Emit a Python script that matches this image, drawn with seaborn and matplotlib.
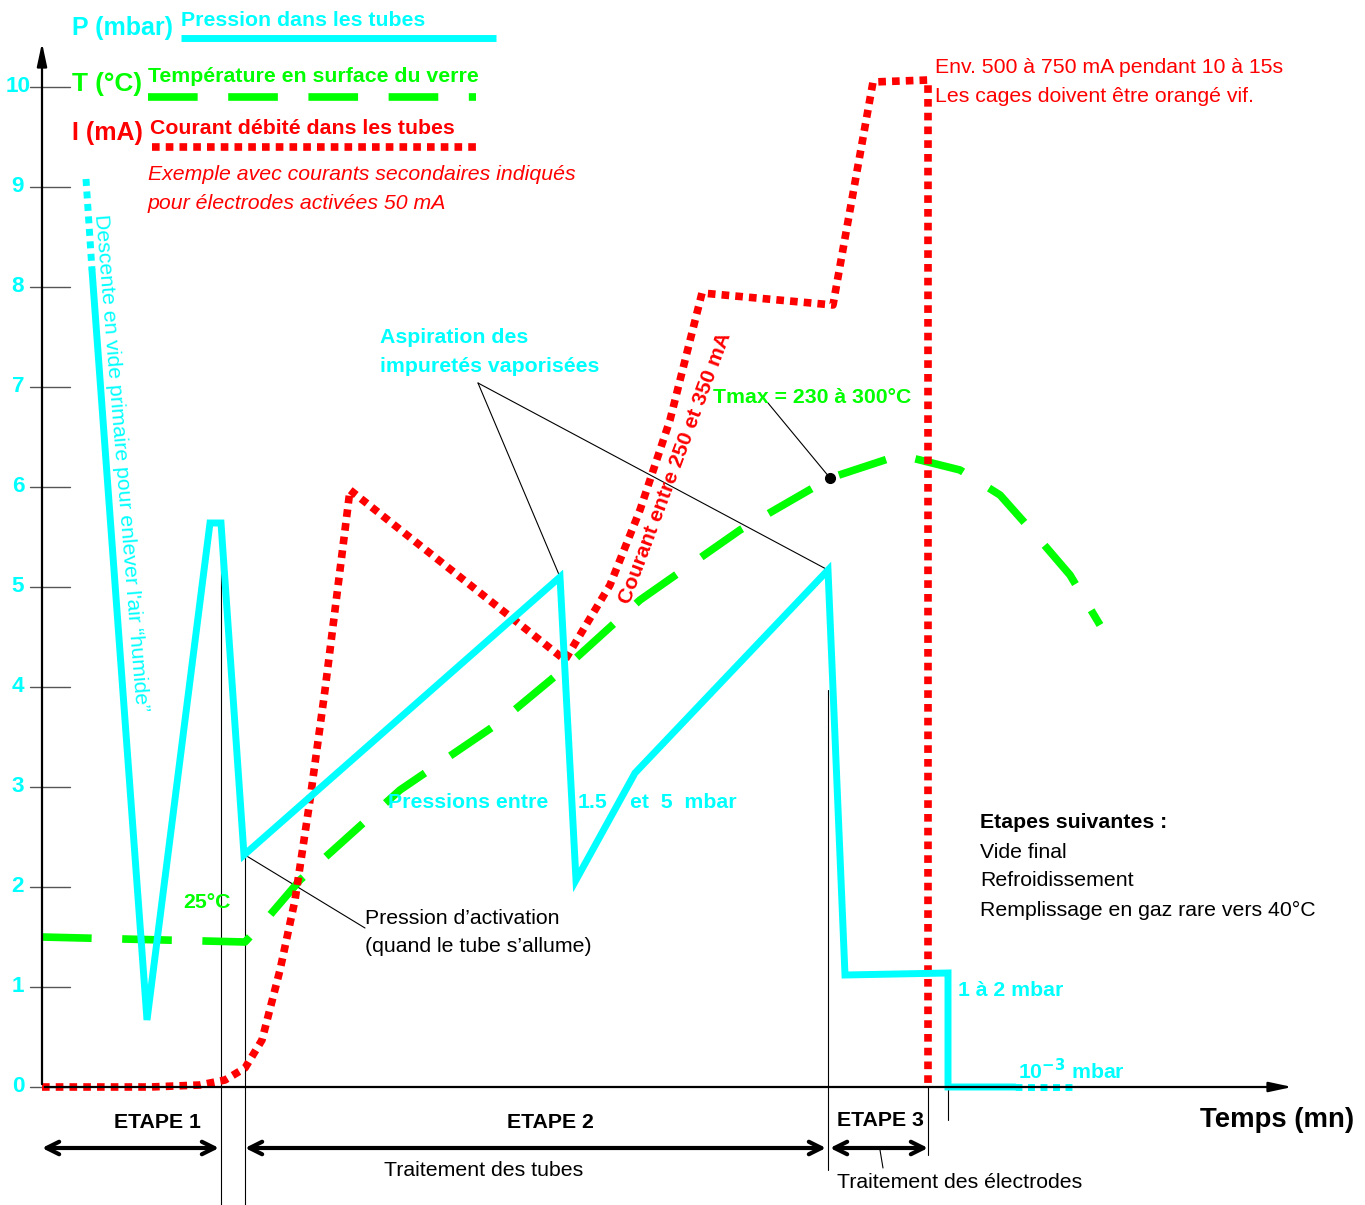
import numpy as np
import pandas as pd
import seaborn as sns
import matplotlib.pyplot as plt
from matplotlib import font_manager

sns.set_style("white")

# narrow font if there is one, otherwise shrink Liberation Sans to the same width
names = {f.name for f in font_manager.fontManager.ttflist}
if 'Liberation Sans Narrow' in names:
    FAM, S = 'Liberation Sans Narrow', 1.0
else:
    FAM, S = 'Liberation Sans', 0.9
plt.rcParams['font.family'] = [FAM, 'DejaVu Sans']

CYAN = '#00FFFF'
GREEN = '#00FF00'
RED = '#FF0000'

# pression (mbar) vs temps
p_t = [0.50, 1.05, 1.68, 1.79, 2.02, 5.18, 5.34, 5.93, 7.86, 8.03, 9.06, 9.06, 9.73]
p_v = [8.17, 0.67, 5.64, 5.64, 2.32, 5.10, 2.07, 3.14, 5.17, 1.12, 1.14, 0.00, 0.00]
p_head_t = [0.44, 0.50]
p_head_v = [9.08, 8.17]
p_tail_t = [9.73, 10.33]
p_tail_v = [0.00, 0.00]

# temperature (echelle relative)
t_t = [0.00, 2.03, 2.28, 2.58, 3.58, 4.58, 5.23, 5.98, 6.98, 7.88, 8.58, 9.18, 9.58, 9.98, 10.28, 10.58]
t_v = [1.50, 1.45, 1.72, 2.07, 2.97, 3.65, 4.19, 4.87, 5.57, 6.09, 6.32, 6.17, 5.92, 5.47, 5.12, 4.62]

# courant (echelle relative)
i_t = [0.00, 1.08, 1.58, 1.83, 2.03, 2.20, 2.38, 2.53, 2.68, 2.83, 2.98, 3.08,
       5.23, 5.68, 5.98, 6.28, 6.60, 7.91, 8.31, 8.86, 8.86]
i_v = [0.00, 0.00, 0.02, 0.07, 0.19, 0.47, 1.17, 1.87, 2.87, 3.97, 5.17, 5.97,
       4.27, 5.02, 5.77, 6.67, 7.94, 7.82, 10.05, 10.07, 0.00]

yticks = list(range(0, 11))
tmax_pt = (7.88, 6.09)

fig = plt.figure(figsize=(13.65, 12.05), dpi=100)
ax = fig.add_axes([0, 0, 1, 1])
ax.set_xlim(-0.42, 13.23)
ax.set_ylim(-1.18, 10.87)
ax.axis('off')


def P(px, py):
    # pixel position -> data coords (layout only)
    return ((px - 42) / 100, (1087 - py) / 100)


def T(px, py, s, color='black', size=17, **kw):
    kw.setdefault('va', 'center')
    ax.text(*P(px, py), s, color=color, fontsize=size * S, **kw)


def line(df_x, df_y, color, lw, ls='-', cap='butt'):
    sns.lineplot(x=df_x, y=df_y, ax=ax, color=color, lw=lw, linestyle=ls,
                 sort=False, estimator=None, dash_capstyle=cap,
                 solid_joinstyle='miter')


# thin guide lines
for (x0, y0), (x1, y1) in [((221, 535), (221, 1205)), ((245, 855), (245, 1205)),
                           ((828, 690), (828, 1170)), ((928, 1087), (928, 1155)),
                           ((948, 1010), (948, 1120)), ((880, 1150), (883, 1168)),
                           ((478, 383), (560, 577)), ((478, 383), (828, 570)),
                           ((245, 855), (365, 928)), ((768, 403), (830, 478))]:
    a, b = P(x0, y0), P(x1, y1)
    ax.plot([a[0], b[0]], [a[1], b[1]], color='black', lw=0.8)

# axes with arrows
ax.annotate('', xy=P(42, 40), xytext=P(42, 1087),
            arrowprops=dict(arrowstyle='-|>,head_length=1.4,head_width=0.3', color='black', lw=1.6))
ax.annotate('', xy=P(1295, 1087), xytext=P(42, 1087),
            arrowprops=dict(arrowstyle='-|>,head_length=1.4,head_width=0.3', color='black', lw=1.6))
for v in yticks:
    ax.plot([-0.12, 0.28], [v, v], color='#555555', lw=1)
    ax.text(-0.24, v, str(v), color=CYAN, fontsize=18 * S, fontweight='bold', ha='center', va='center')

# series
line(t_t, t_v, GREEN, 5.5, (0, (6.5, 4)))
line(i_t, i_v, RED, 5.5, (0, (1, 0.8)))
line(p_t, p_v, CYAN, 5)
line(p_head_t, p_head_v, CYAN, 5, (0, (1, 0.8)))
line(p_tail_t, p_tail_v, CYAN, 5, (0, (1, 0.8)))
ax.plot(*tmax_pt, 'o', color='black', ms=7)

# legend block
T(72, 28, 'P (mbar)', CYAN, 20, fontweight='bold')
T(181, 21, 'Pression dans les tubes', CYAN, 17, fontweight='bold')
a, b = P(181, 38), P(496, 38)
ax.plot([a[0], b[0]], [a[1], b[1]], color=CYAN, lw=5, solid_capstyle='butt')
T(72, 84, 'T (°C)', GREEN, 21, fontweight='bold')
T(148, 77, 'Température en surface du verre', GREEN, 17, fontweight='bold')
a, b = P(148, 97), P(476, 97)
ax.plot([a[0], b[0]], [a[1], b[1]], color=GREEN, lw=5.5, linestyle=(0, (6.5, 4)))
T(72, 133, 'I (mA)', RED, 20, fontweight='bold')
T(150, 129, 'Courant débité dans les tubes', RED, 17, fontweight='bold')
a, b = P(152, 147), P(476, 147)
ax.plot([a[0], b[0]], [a[1], b[1]], color=RED, lw=5.5, linestyle=(0, (1, 0.8)))
T(148, 175, 'Exemple avec courants secondaires indiqués', RED, 17, style='italic')
T(148, 204, 'pour électrodes activées 50 mA', RED, 17, style='italic')

# annotations
T(121, 463, 'Descente en vide primaire pour enlever l\'air “humide”', CYAN, 17,
  rotation=-85.3, rotation_mode='anchor', ha='center')
T(380, 338, 'Aspiration des', CYAN, 17, fontweight='bold')
T(380, 367, 'impuretés vaporisées', CYAN, 17, fontweight='bold')
T(713, 398, 'Tmax = 230 à 300°C', GREEN, 17, fontweight='bold')
T(675, 468, 'Courant entre 250 et 350 mA', RED, 17, fontweight='bold',
  rotation=69.5, rotation_mode='anchor', ha='center')
T(935, 68, 'Env. 500 à 750 mA pendant 10 à 15s', RED, 17)
T(935, 97, 'Les cages doivent être orangé vif.', RED, 17)
T(388, 803, 'Pressions entre', CYAN, 17, fontweight='bold')
T(578, 803, '1.5', CYAN, 17, fontweight='bold')
T(630, 803, 'et  5  mbar', CYAN, 17, fontweight='bold')
T(183, 903, '25°C', GREEN, 17, fontweight='bold')
T(365, 918, 'Pression d’activation', 'black', 17)
T(365, 947, '(quand le tube s’allume)', 'black', 17)
T(980, 823, 'Etapes suivantes :', 'black', 17, fontweight='bold')
for py, s in [(852, 'Vide final'), (881, 'Refroidissement'), (910, 'Remplissage en gaz rare vers 40°C')]:
    T(980, py, s, 'black', 17)
T(958, 990, '1 à 2 mbar', CYAN, 17, fontweight='bold')
T(1018, 1071, r'10$^{\mathbf{-3}}$ mbar', CYAN, 17, fontweight='bold')

# etapes
for cx, cy, s in [(157, 1123, 'ETAPE 1'), (550, 1123, 'ETAPE 2'), (880, 1120, 'ETAPE 3')]:
    T(cx, cy, s, 'black', 17, fontweight='bold', ha='center')
for x0, x1 in [(42, 219), (245, 826), (830, 928)]:
    ax.annotate('', xy=P(x1, 1148), xytext=P(x0, 1148),
                arrowprops=dict(arrowstyle='<->,head_length=0.9,head_width=0.45', color='black', lw=3,
                                shrinkA=0, shrinkB=0))
T(484, 1170, 'Traitement des tubes', 'black', 17, ha='center')
T(960, 1182, 'Traitement des électrodes', 'black', 17, ha='center')
T(1277, 1120, 'Temps (mn)', 'black', 22, fontweight='bold', ha='center')

fig.savefig('out.png', dpi=100)
